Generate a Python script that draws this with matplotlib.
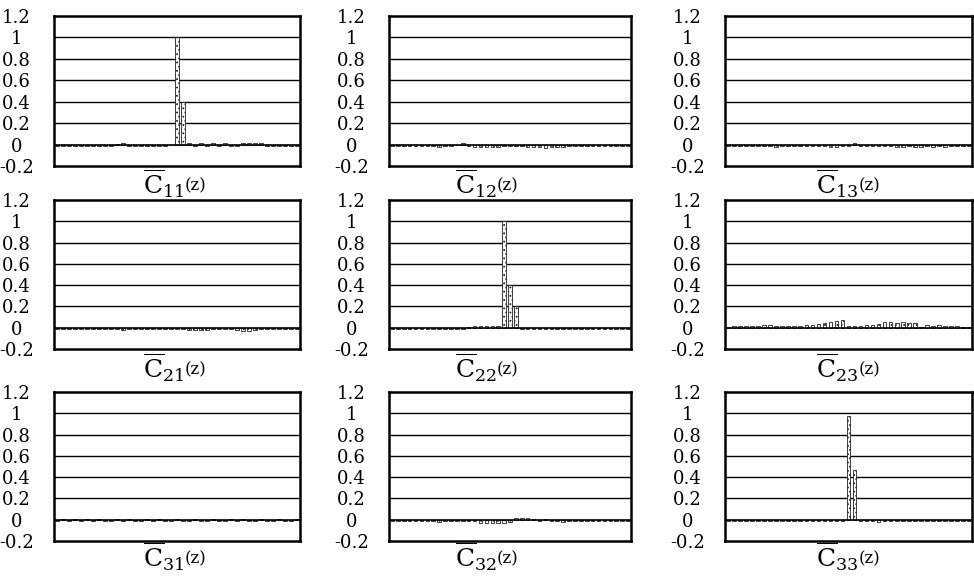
#Cross-correlation panels c_ij(z)

import numpy as np
import matplotlib.pyplot as plt

plt.rcParams['font.family'] = ['DejaVu Serif']
plt.rcParams['mathtext.fontset'] = 'dejavuserif'
plt.rcParams['hatch.color'] = '#555555'
plt.rcParams['hatch.linewidth'] = 0.8

#Lags (41 bars per panel)
lags = list(range(-20, 21))

c11 = [-0.012, -0.01, -0.012, -0.01, -0.012, -0.01, -0.012, -0.01, -0.012, -0.01, 0.008,
       0.012, -0.01, -0.012, -0.01, -0.012, -0.01, -0.012, -0.01, -0.008, 1.0,
       0.4, 0.01, -0.01, 0.01, -0.01, 0.012, -0.01, 0.01, -0.012, -0.01,
       0.012, 0.015, 0.015, 0.01, -0.01, -0.012, -0.01, -0.012, -0.01, -0.012]
c12 = [-0.01, -0.012, -0.01, -0.012, -0.01, -0.012, -0.01, -0.015, -0.02, -0.012, -0.01,
       -0.008, 0.01, -0.01, -0.02, -0.025, -0.025, -0.022, -0.02, -0.01, -0.01,
       -0.01, -0.012, -0.02, -0.025, -0.025, -0.03, -0.025, -0.022, -0.02, -0.01,
       -0.012, -0.018, -0.015, -0.015, -0.01, -0.012, -0.01, -0.012, -0.01, -0.012]
c13 = [-0.01, -0.012, -0.015, -0.018, -0.015, -0.012, -0.015, -0.018, -0.02, -0.015, -0.01,
       -0.012, -0.01, -0.012, -0.01, -0.012, -0.018, -0.02, -0.02, -0.015, -0.01,
       0.01, -0.01, -0.012, -0.01, -0.012, -0.015, -0.018, -0.02, -0.02, -0.018,
       -0.02, -0.02, -0.018, -0.02, -0.018, -0.02, -0.015, -0.012, -0.012, -0.01]
c21 = [-0.01, -0.012, -0.01, -0.012, -0.01, -0.012, -0.01, -0.012, -0.01, -0.012, -0.015,
       -0.018, -0.015, -0.012, -0.01, -0.012, -0.01, -0.012, -0.01, -0.012, -0.01,
       -0.015, -0.018, -0.02, -0.022, -0.018, -0.015, -0.012, -0.01, -0.015, -0.02,
       -0.03, -0.03, -0.02, -0.015, -0.012, -0.01, -0.012, -0.01, -0.012, -0.01]
c22 = [-0.01, -0.012, -0.01, -0.012, -0.01, -0.012, -0.01, -0.012, -0.01, -0.012, -0.01,
       -0.012, -0.01, 0.008, 0.012, 0.018, 0.015, 0.018, 0.012, 1.0, 0.4,
       0.2, -0.012, -0.01, -0.012, -0.01, -0.012, -0.01, -0.012, -0.01, -0.012,
       -0.01, -0.012, -0.01, -0.012, -0.01, -0.012, -0.01, -0.012, -0.01, -0.012]
c23 = [0.008, 0.012, 0.015, 0.012, 0.02, 0.02, 0.03, 0.025, 0.02, 0.015, 0.02,
       0.015, 0.02, 0.025, 0.03, 0.035, 0.04, 0.055, 0.06, 0.07, 0.02,
       0.015, 0.02, 0.025, 0.03, 0.035, 0.05, 0.05, 0.045, 0.05, 0.045,
       0.04, 0.01, 0.025, 0.02, 0.025, 0.02, 0.015, 0.012, 0.008, 0.006]
c31 = [-0.01, 0.008, -0.012, 0.008, -0.01, 0.01, -0.01, 0.008, -0.012, -0.01, 0.008,
       -0.012, 0.008, -0.01, -0.012, 0.008, -0.01, 0.01, -0.01, -0.012, 0.008,
       -0.01, -0.012, 0.008, -0.01, -0.012, 0.008, -0.01, -0.012, 0.008, -0.01,
       0.01, -0.01, -0.012, 0.008, -0.01, -0.012, 0.008, -0.01, -0.012, 0.008]
c32 = [-0.01, -0.012, -0.01, -0.012, -0.01, -0.012, -0.01, -0.012, -0.02, -0.012, -0.01,
       -0.015, -0.012, -0.015, -0.012, -0.03, -0.035, -0.035, -0.032, -0.035, -0.025,
       0.015, 0.02, 0.015, 0.01, -0.01, 0.01, -0.01, -0.015, -0.018, -0.01,
       -0.012, -0.01, -0.012, -0.01, -0.012, -0.01, -0.012, -0.01, -0.012, -0.01]
c33 = [-0.01, -0.012, -0.012, -0.01, -0.01, -0.012, -0.012, -0.01, -0.012, -0.01, -0.01,
       -0.012, -0.012, -0.01, -0.012, -0.01, -0.01, -0.012, -0.01, -0.012, 0.97,
       0.47, -0.012, -0.015, -0.012, -0.018, -0.015, -0.012, -0.012, -0.01, -0.012,
       -0.012, -0.015, -0.01, -0.012, -0.012, -0.01, -0.012, -0.012, -0.01, -0.012]

panels = [[c11, c12, c13], [c21, c22, c23], [c31, c32, c33]]
names = [['11', '12', '13'], ['21', '22', '23'], ['31', '32', '33']]
yticks = [-0.2, 0, 0.2, 0.4, 0.6, 0.8, 1, 1.2]
ylabels = ['-0.2', '0', '0.2', '0.4', '0.6', '0.8', '1', '1.2']

#Pixel layout of the boxes
W, H = 974, 581
cols = [(54, 300), (389, 631), (725, 972)]
rows = [(16, 166), (200, 349), (392, 541)]
title_x = [164, 476, 837]
title_y = [184, 368, 557]

fig = plt.figure(figsize=(W / 100, H / 100), dpi=100)

for r in range(3):
    for c in range(3):
        x0, x1 = cols[c]
        y0, y1 = rows[r]
        ax = fig.add_axes([x0 / W, 1 - y1 / H, (x1 - x0) / W, (y1 - y0) / H])
        ax.bar(lags, panels[r][c], width=0.6, facecolor='white',
               edgecolor='#222222', hatch='....', linewidth=0.6, zorder=3)
        ax.set_xlim(-20.5, 20.5)
        ax.set_ylim(-0.2, 1.2)
        ax.set_yticks(yticks)
        ax.set_yticklabels(ylabels, fontsize=13)
        for lab in ax.get_yticklabels():
            lab.set_horizontalalignment('center')
        ax.tick_params(axis='y', length=0, pad=27)
        ax.set_xticks([])
        for v in [0.2, 0.4, 0.6, 0.8, 1.0]:
            ax.axhline(v, color='black', linewidth=1.0, zorder=1)
        ax.axhline(0, color='black', linewidth=1.2, zorder=4)
        for s in ax.spines.values():
            s.set_linewidth(1.8)

        t = fig.text(title_x[c] / W, 1 - title_y[r] / H,
                     r'$\overline{\mathrm{C}}_{' + names[r][c] + '}$',
                     fontsize=18, ha='center', va='center')
        plt.annotate('(z)', xy=(1.0, 0.45), xycoords=t, fontsize=12,
                     ha='left', va='center')

plt.savefig('out.png', dpi=100)
